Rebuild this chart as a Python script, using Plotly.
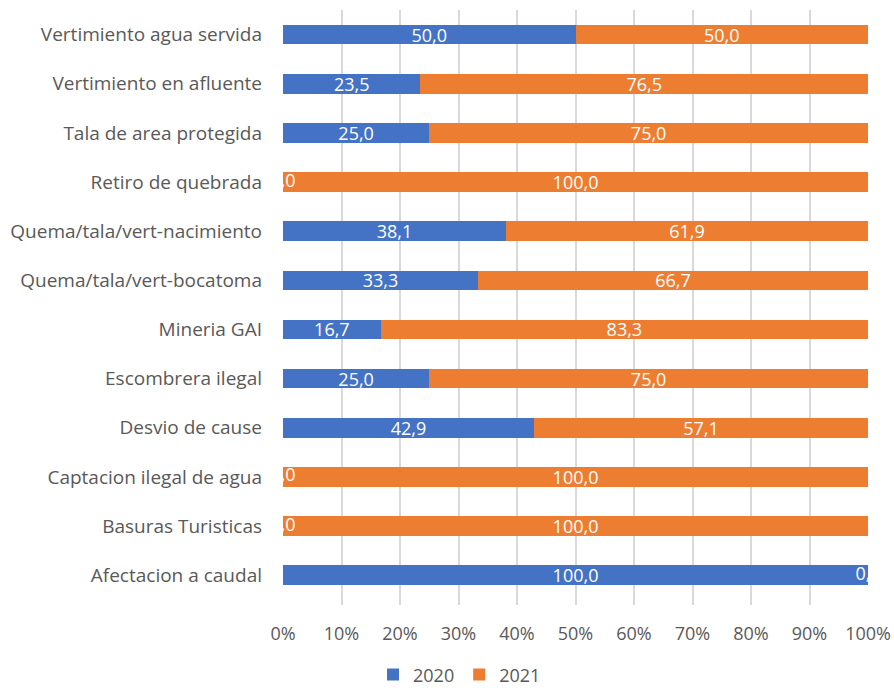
import plotly.graph_objects as go

# Share of reported cases per year for each environmental issue (percent)
categories = [
    "Vertimiento agua servida",
    "Vertimiento en afluente",
    "Tala de area protegida",
    "Retiro de quebrada",
    "Quema/tala/vert-nacimiento",
    "Quema/tala/vert-bocatoma",
    "Mineria GAI",
    "Escombrera ilegal",
    "Desvio de cause",
    "Captacion ilegal de agua",
    "Basuras Turisticas",
    "Afectacion a caudal",
]
share_2020 = [50.0, 23.5, 25.0, 0.0, 38.1, 33.3, 16.7, 25.0, 42.9, 0.0, 0.0, 100.0]
share_2021 = [50.0, 76.5, 75.0, 100.0, 61.9, 66.7, 83.3, 75.0, 57.1, 100.0, 100.0, 0.0]
tick_values = [0, 10, 20, 30, 40, 50, 60, 70, 80, 90, 100]
tick_labels = [f"{v}%" for v in tick_values]

BLUE = "#4472C4"
ORANGE = "#ED7D31"
FONT = "Open Sans"
GREY = "#595959"
SIZE = 18
CAT_SIZE = 19

fig = go.Figure()

for name, vals, color in [("2020", share_2020, BLUE), ("2021", share_2021, ORANGE)]:
    fig.add_trace(go.Bar(
        y=categories, x=vals, name=name, orientation="h",
        marker=dict(color=color, line=dict(width=0)),
        width=0.4,
        texttemplate="%{x:.1f}",
        textposition="inside",
        insidetextanchor="middle",
        textangle=0,
        constraintext="none",
        textfont=dict(color="white", size=SIZE, family=FONT),
        hoverinfo="skip",
    ))

# Zero-width segments still carry a "0,0" label, centred on the segment edge
zero_x, zero_y = [], []
for cat, a, b in zip(categories, share_2020, share_2021):
    if a == 0:
        zero_x.append(0.0)
        zero_y.append(cat)
    if b == 0:
        zero_x.append(a)
        zero_y.append(cat)
fig.add_trace(go.Scatter(
    x=zero_x, y=zero_y, mode="text", text=["0,0"] * len(zero_x),
    textposition="middle center", cliponaxis=True,
    textfont=dict(color="white", size=SIZE, family=FONT),
    showlegend=False, hoverinfo="skip",
))

fig.update_layout(
    width=894, height=690,
    barmode="stack",
    separators=",.",
    paper_bgcolor="white", plot_bgcolor="white",
    margin=dict(l=283, r=26, t=10, b=85, autoexpand=False),
    font=dict(family=FONT, color=GREY, size=SIZE),
    showlegend=True,
    legend=dict(
        orientation="h", xref="container", x=0.514, xanchor="center",
        yref="container", y=0.022, yanchor="middle",
        font=dict(size=SIZE, color=GREY, family=FONT),
        itemwidth=30, traceorder="normal",
    ),
)
fig.update_xaxes(
    range=[0, 100], tickvals=tick_values, ticktext=tick_labels,
    showgrid=True, gridcolor="#D9D9D9", gridwidth=1.5,
    zeroline=False, showline=False, automargin=False,
    ticks="", ticklabelstandoff=16,
    tickfont=dict(size=SIZE, color=GREY, family=FONT),
)
fig.update_yaxes(
    categoryorder="array", categoryarray=categories, autorange="reversed",
    showgrid=False, zeroline=False, showline=False, automargin=False,
    ticks="", ticklabelstandoff=20,
    tickfont=dict(size=CAT_SIZE, color=GREY, family=FONT),
)

fig.write_html("out.html")
